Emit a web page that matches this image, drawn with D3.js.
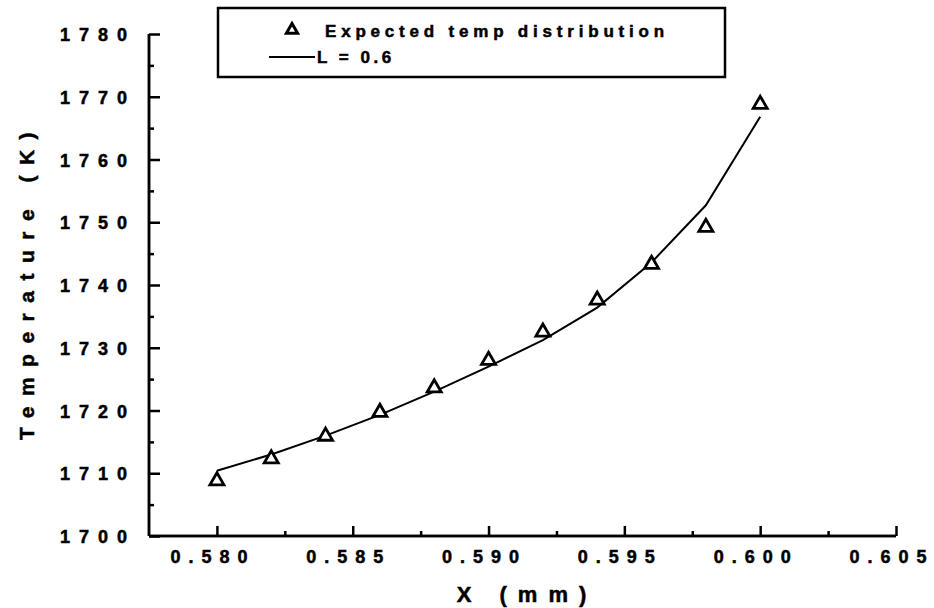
<!DOCTYPE html>
<html>
<head>
<meta charset="utf-8">
<script src="https://cdn.jsdelivr.net/npm/d3@7"></script>
<style>
  html, body { margin: 0; padding: 0; background: #fff; }
  svg { display: block; }
  text { font-family: "Liberation Sans", Arial, sans-serif; font-weight: bold; fill: #000; stroke: #000; stroke-width: 0.5px; }
</style>
</head>
<body>
<div id="chart"></div>
<script>
// ---- data ----
const xPoints   = [0.580, 0.582, 0.584, 0.586, 0.588, 0.590, 0.592, 0.594, 0.596, 0.598, 0.600];
const expected  = [1708.8, 1712.3, 1715.9, 1719.7, 1723.6, 1728.0, 1732.5, 1737.6, 1743.3, 1749.2, 1768.8];
const modelL06  = [1710.4, 1713.0, 1716.0, 1719.3, 1723.0, 1727.0, 1731.2, 1736.4, 1743.6, 1752.7, 1766.8];
const xTicks    = [0.580, 0.585, 0.590, 0.595, 0.600, 0.605];
const xMinor    = [0.5825, 0.5875, 0.5925, 0.5975, 0.6025];
const yTicks    = [1700, 1710, 1720, 1730, 1740, 1750, 1760, 1770, 1780];
const yMinor    = [1705, 1715, 1725, 1735, 1745, 1755, 1765, 1775];

const width = 934, height = 608;
const svg = d3.select('#chart').append('svg')
  .attr('width', width)
  .attr('height', height);

const x = d3.scaleLinear().domain([0.5775, 0.605]).range([149, 896]);
const y = d3.scaleLinear().domain([1700, 1780]).range([536, 34]);

// axes (ticks point inward)
const xAxis = svg.append('g').attr('transform', `translate(0,${y(1700)})`);
xAxis.call(d3.axisTop(x).tickValues(xTicks).tickSize(10).tickFormat(''));
xAxis.append('g').call(d3.axisTop(x).tickValues(xMinor).tickSize(5).tickFormat(''));
xAxis.selectAll('.domain').attr('d', `M${x.range()[0]},0H${x.range()[1]}`);

const yAxis = svg.append('g').attr('transform', `translate(${x(0.5775)},0)`);
yAxis.call(d3.axisRight(y).tickValues(yTicks).tickSize(11).tickFormat(''));
yAxis.append('g').call(d3.axisRight(y).tickValues(yMinor).tickSize(5).tickFormat(''));
yAxis.selectAll('.domain').attr('d', `M0,${y.range()[1]}V${y.range()[0]}`);

svg.selectAll('.domain, .tick line')
  .attr('stroke', '#000')
  .attr('stroke-width', 2.5);

// tick labels (spaced-out bold digits)
svg.append('g').selectAll('text')
  .data(xTicks)
  .join('text')
  .attr('x', d => x(d) - 4)
  .attr('y', 563)
  .attr('text-anchor', 'middle')
  .style('font-size', '18px')
  .style('letter-spacing', '8px')
  .text(d => d3.format('.3f')(d));

svg.append('g').selectAll('text')
  .data(yTicks)
  .join('text')
  .attr('x', 136)
  .attr('y', d => y(d) + 7)
  .attr('text-anchor', 'end')
  .style('font-size', '18px')
  .style('letter-spacing', '9px')
  .text(d => d);

// axis titles
svg.append('text')
  .attr('x', 527)
  .attr('y', 602)
  .attr('text-anchor', 'middle')
  .style('font-size', '22px')
  .style('letter-spacing', '11px')
  .text('X (mm)');

svg.append('text')
  .attr('transform', 'translate(34,281) rotate(-90)')
  .attr('text-anchor', 'middle')
  .style('font-size', '21px')
  .style('letter-spacing', '10.5px')
  .text('Temperature (K)');

// model curve
const line = d3.line()
  .x((d, i) => x(xPoints[i]))
  .y(d => y(d));

svg.append('path')
  .datum(modelL06)
  .attr('fill', 'none')
  .attr('stroke', '#000')
  .attr('stroke-width', 2)
  .attr('d', line);

// expected points
const tri = d3.symbol(d3.symbolTriangle, 85);
svg.append('g').selectAll('path')
  .data(expected)
  .join('path')
  .attr('transform', (d, i) => `translate(${x(xPoints[i])},${y(d)})`)
  .attr('d', tri)
  .attr('fill', '#fff')
  .attr('stroke', '#000')
  .attr('stroke-width', 2.8);

// legend
const legend = svg.append('g');
legend.append('rect')
  .attr('x', 218).attr('y', 8)
  .attr('width', 507).attr('height', 69)
  .attr('fill', '#fff')
  .attr('stroke', '#000')
  .attr('stroke-width', 2.5);

legend.append('path')
  .attr('transform', 'translate(292,30)')
  .attr('d', d3.symbol(d3.symbolTriangle, 55))
  .attr('fill', '#fff')
  .attr('stroke', '#000')
  .attr('stroke-width', 3);
legend.append('text')
  .attr('x', 325).attr('y', 37)
  .style('font-size', '17px')
  .style('letter-spacing', '4.8px')
  .text('Expected temp distribution');

legend.append('line')
  .attr('x1', 269).attr('x2', 315)
  .attr('y1', 57).attr('y2', 57)
  .attr('stroke', '#000')
  .attr('stroke-width', 2);
legend.append('text')
  .attr('x', 317).attr('y', 63)
  .style('font-size', '17px')
  .style('letter-spacing', '3.5px')
  .text('L = 0.6');
</script>
</body>
</html>
